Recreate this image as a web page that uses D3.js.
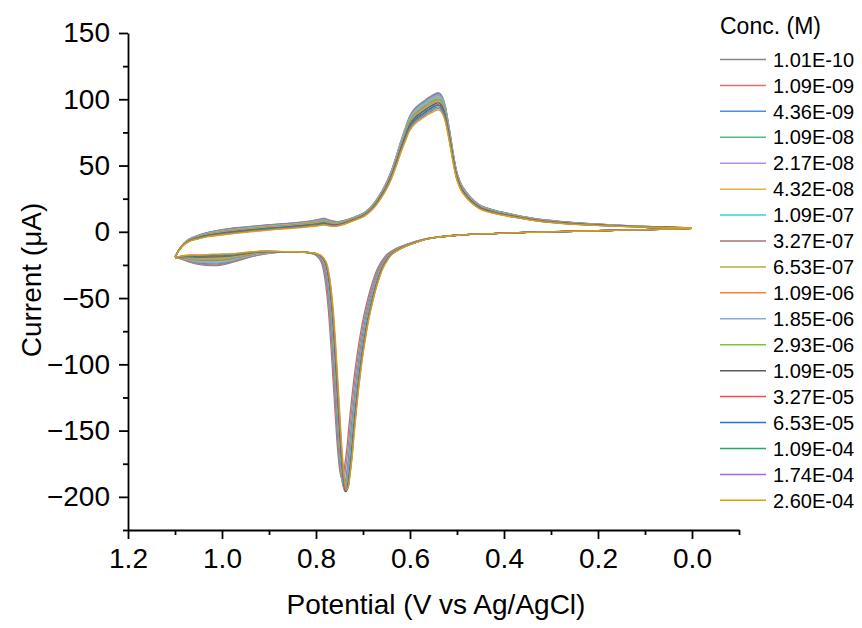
<!DOCTYPE html>
<html>
<head>
<meta charset="utf-8">
<script src="https://cdn.jsdelivr.net/npm/d3@7"></script>
<style>
  html, body { margin: 0; padding: 0; background: #fff; }
  svg { display: block; }
  text { font-family: Arial, "Liberation Sans", sans-serif; fill: #000; }
</style>
</head>
<body>
<svg id="chart" width="862" height="628"></svg>
<script>
// Concentration series (legend order)
const concentrations = ["1.01E-10","1.09E-09","4.36E-09","1.09E-08","2.17E-08","4.32E-08",
  "1.09E-07","3.27E-07","6.53E-07","1.09E-06","1.85E-06","2.93E-06",
  "1.09E-05","3.27E-05","6.53E-05","1.09E-04","1.74E-04","2.60E-04"];
const seriesColors = ["#868686","#f06a6a","#4a8ee0","#4fbf80","#b48cf0","#e0b040",
  "#2ed4d4","#a07676","#b0b030","#ff7f30","#7fb0e0","#7cc62c",
  "#5a5a5a","#ff4a4a","#2070e0","#1fae60","#a868e6","#e0a000"];

// Reference voltammogram, forward (oxidation) branch: potential (V), current (µA)
const upperV = [0.00,0.05,0.10,0.15,0.20,0.25,0.28,0.32,0.35,0.38,0.42,0.45,0.47,0.48,0.49,0.50,0.505,0.51,0.515,0.52,0.525,0.53,0.535,0.54,0.545,0.55,0.56,0.57,0.58,0.59,0.60,0.61,0.62,0.63,0.64,0.65,0.66,0.67,0.68,0.69,0.70,0.72,0.74,0.755,0.77,0.783,0.795,0.81,0.85,0.90,0.95,1.00,1.03,1.05,1.07,1.08,1.09,1.10];
const upperI = [3.0,3.3,3.8,4.4,5.2,6.2,7.0,8.4,10.0,12.0,15.0,18.5,24,28,33,42,50,60,71,81,90,95.5,98.5,99.5,99,98,96,93.5,91,88,83,74,64,53,43,35,28.5,23,18.5,15,12.5,9.5,7.0,5.8,6.4,7.6,6.8,6.0,4.5,3.2,1.5,-0.5,-2.2,-4,-6.5,-9,-13,-19];

// Reference voltammogram, reverse (reduction) branch
const lowerV = [1.10,1.09,1.07,1.05,1.02,1.00,0.98,0.96,0.94,0.92,0.90,0.87,0.84,0.82,0.80,0.79,0.78,0.775,0.77,0.765,0.76,0.755,0.75,0.745,0.74,0.737,0.733,0.73,0.725,0.72,0.71,0.70,0.69,0.68,0.67,0.66,0.65,0.64,0.62,0.60,0.58,0.56,0.54,0.50,0.45,0.40,0.35,0.30,0.25,0.20,0.15,0.10,0.05,0.00];
const lowerI = [-19.5,-19.5,-20.5,-21.5,-21.8,-21.5,-20.5,-19,-17.5,-16.3,-15.6,-15.2,-15.2,-15.5,-16.5,-18,-23,-30,-42,-60,-85,-115,-145,-172,-190,-194,-192,-185,-170,-150,-115,-88,-67,-51,-38,-28,-21.5,-17,-12.5,-9.5,-7,-5.2,-4,-2.6,-1.6,-1,-0.5,0,0.4,0.8,1.2,1.6,2.1,2.6];

// Per-series features
const anodicPeak   = [101.5,104,103.5,103,102.5,101.5,101,100,99.5,99,98.5,98,97.5,96.5,96,95,94,93];
const cathodicPeak = [-185,-187,-191,-193,-194,-195,-194,-195,-196,-195,-194,-195,-196,-195,-194,-195,-195,-194];
const peakShift    = [0.009,0.007,0.005,0.004,0.003,0.002,0.002,0.002,0.001,0.001,0.001,0.001,0,0,0,-0.001,-0.001,-0.002];
const reverseDip   = [-25.6,-25.0,-24.2,-23.6,-23.0,-22.4,-21.9,-21.4,-20.8,-20.3,-19.8,-19.3,-18.8,-18.4,-18.0,-17.6,-17.2,-16.8];
const forwardOffset= [2.2,2.0,1.8,1.5,1.2,1.0,0.7,0.5,0.3,0.1,-0.1,-0.3,-0.5,-0.8,-1.0,-1.3,-1.6,-1.9];
const shoulderExtra= [0.5,0.7,0.4,0.3,0.2,0.1,0,0,-0.1,-0.2,-0.3,-0.4,-0.5,-0.5,-0.6,-0.6,-0.7,-0.7];

// Axis ticks
const xMajorTicks = [1.2,1.0,0.8,0.6,0.4,0.2,0.0];
const xMinorTicks = [1.1,0.9,0.7,0.5,0.3,0.1,-0.1];
const yMajorTicks = [-200,-150,-100,-50,0,50,100,150];
const yMinorTicks = [-225,-175,-125,-75,-25,25,75,125];

// Blend weights along the potential axis
const offsetWV = [0,0.3,0.45,0.72,0.8,1.0,1.06,1.1], offsetW = [0,0.4,0.5,0.6,1,1,0.6,0];
const shoulderWV = [0.75,0.765,0.783,0.80,0.815], shoulderW = [0,0.5,1,0.5,0];
const dipWV = [0.86,0.9,0.95,1.0,1.03,1.07,1.1], dipW = [0,0.2,0.55,0.95,1,0.6,0];
const shiftWV = [0.0,0.5,0.62,0.82,0.9,1.1], shiftW = [0,0.3,1,1,0.3,0];

function lerp(xs, ys, v) {
  if (v <= xs[0]) return ys[0];
  if (v >= xs[xs.length - 1]) return ys[ys.length - 1];
  for (let k = 1; k < xs.length; k++) {
    if (v <= xs[k]) {
      const t = (v - xs[k - 1]) / (xs[k] - xs[k - 1]);
      return ys[k - 1] + t * (ys[k] - ys[k - 1]);
    }
  }
  return ys[ys.length - 1];
}

const baseMax = d3.max(upperI);
const baseMin = d3.min(lowerI);
const baseDip = -21.8;

function forwardBranch(s) {
  return upperV.map((v, k) => {
    const b = upperI[k];
    let i = b;
    if (v < 0.75) i += (anodicPeak[s] - baseMax) * Math.max(0, b - 10) / (baseMax - 10);
    i += forwardOffset[s] * lerp(offsetWV, offsetW, v);
    i += shoulderExtra[s] * lerp(shoulderWV, shoulderW, v);
    return { v, i };
  });
}

function reverseBranch(s) {
  const kPeak = (cathodicPeak[s] + 20) / (baseMin + 20);
  return lowerV.map((v, k) => {
    const b = lowerI[k];
    let i = b;
    if (v < 0.85 && b < -20) i = -20 + (b + 20) * kPeak;
    i += (reverseDip[s] - baseDip) * lerp(dipWV, dipW, v);
    const vv = v + peakShift[s] * lerp(shiftWV, shiftW, v);
    return { v: vv, i };
  });
}

const svg = d3.select("#chart");
const x = d3.scaleLinear().domain([1.2, -0.1]).range([128, 739]);
const y = d3.scaleLinear().domain([-225, 150]).range([530, 33]);

const line = d3.line().x(d => x(d.v)).y(d => y(d.i)).curve(d3.curveCatmullRom.alpha(0.5));

const curves = svg.append("g");
concentrations.forEach((c, s) => {
  [forwardBranch(s), reverseBranch(s)].forEach(pts => {
    curves.append("path")
      .attr("d", line(pts))
      .attr("fill", "none")
      .attr("stroke", seriesColors[s])
      .attr("stroke-width", 1.3)
      .attr("stroke-linejoin", "round");
  });
});

// Axes
const axisW = 1.8;
const fontTick = 28;

const gx = svg.append("g").attr("transform", "translate(0,530)");
gx.call(d3.axisBottom(x).tickValues(xMajorTicks).tickSize(9).tickSizeOuter(0).tickPadding(9)
  .tickFormat(d3.format(".1f")));
gx.append("g").call(d3.axisBottom(x).tickValues(xMinorTicks).tickSize(5).tickSizeOuter(0).tickFormat(""))
  .select(".domain").remove();

const gy = svg.append("g").attr("transform", "translate(128,0)");
gy.call(d3.axisLeft(y).tickValues(yMajorTicks).tickSize(9).tickSizeOuter(0).tickPadding(9)
  .tickFormat(d3.format("d")));
gy.append("g").call(d3.axisLeft(y).tickValues(yMinorTicks).tickSize(5).tickSizeOuter(0).tickFormat(""))
  .select(".domain").remove();

svg.selectAll(".domain, .tick line").attr("stroke", "#000").attr("stroke-width", axisW);
svg.selectAll(".tick text")
  .style("font-family", "Arial, 'Liberation Sans', sans-serif")
  .style("font-size", fontTick + "px")
  .attr("fill", "#000");

// Axis titles
svg.append("text")
  .attr("x", 436).attr("y", 614)
  .attr("text-anchor", "middle")
  .style("font-size", "28px")
  .text("Potential (V vs Ag/AgCl)");

svg.append("text")
  .attr("transform", "translate(41,280) rotate(-90)")
  .attr("text-anchor", "middle")
  .style("font-size", "28px")
  .text("Current (\u03BCA)");

// Legend
const legend = svg.append("g");
legend.append("text")
  .attr("x", 720).attr("y", 34)
  .style("font-size", "23px")
  .text("Conc. (M)");
concentrations.forEach((c, s) => {
  const cy = 59.5 + s * 25.93;
  legend.append("line")
    .attr("x1", 720).attr("x2", 766)
    .attr("y1", cy).attr("y2", cy)
    .attr("stroke", seriesColors[s]).attr("stroke-width", 1.5);
  legend.append("text")
    .attr("x", 773).attr("y", cy).attr("dy", "0.36em")
    .style("font-size", "20px")
    .text(c);
});
</script>
</body>
</html>
